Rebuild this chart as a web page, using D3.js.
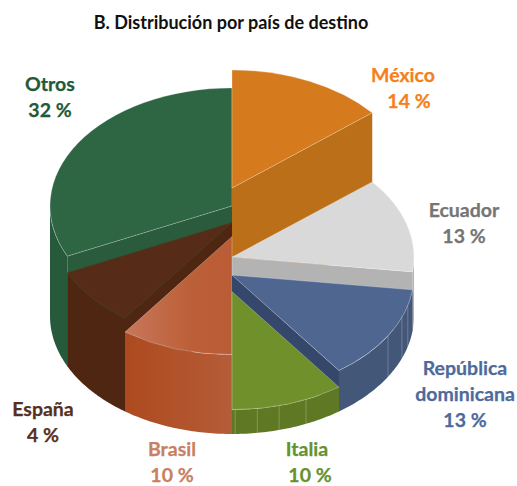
<!DOCTYPE html>
<html>
<head>
<meta charset="utf-8">
<script src="https://cdn.jsdelivr.net/npm/d3@7"></script>
<style>
    html, body { margin: 0; padding: 0; background: #fff; }
    svg { display: block; }
    text { font-family: Lato, "Open Sans", sans-serif; font-weight: 700; }
</style>
</head>
<body>
<svg id="drawing_region"></svg>
<script>
const titulo = "B. Distribución por país de destino";

// paises, in clockwise order from the top
const paises = [["México"], ["Ecuador"], ["República", "dominicana"], ["Italia"], ["Brasil"], ["España"], ["Otros"]];
// width of each slice as drawn
const valores = [14, 13, 13, 10, 10, 8, 32];
// the label printed next to each slice (España says 4 % but is drawn wider)
const rotulos = ["14 %", "13 %", "13 %", "10 %", "10 %", "4 %", "32 %"];
// relative height of each slice, tallest = 100
const alturas = [100, 46, 32, 19, 62, 73, 86];

const colorTapa = ["#d57b1e", "#d9d9d9", "#4e6690", "#70902c", "#c0613a", "#562c18", "#2e6644"];
const colorPared = ["#bb6f19", "#b3b3b3", "#35476a", "#5e7823", "#b1502a", "#4f2612", "#295b3c"];
const colorExterior = ["#bb6f19", "#b3b3b3", "#435778", "#5e7823", "#b1502a", "#4f2612", "#265a3b"];
const colorTexto = ["#f5801a", "#757575", "#4e6a9c", "#66912f", "#c97f62", "#56301f", "#1f5a38"];

const W = 517, H = 486;
const cx = 232, floorY = 316, rx = 182, ry = 118;

const svg = d3.select('#drawing_region').attr('width', W).attr('height', H);

const pie = d3.pie().sort(null).startAngle(0).endAngle(2 * Math.PI);
const slices = pie(valores);

// height scale: value 0 sits on the floor, 100 on top of México
const yTop = d3.scaleLinear().domain([0, 100]).range([floorY, floorY - 128]);

const defs = svg.append('defs');
const gTapa = defs.append('linearGradient').attr('id', 'brasilTapa');
gTapa.append('stop').attr('offset', '0%').attr('stop-color', '#c8775a');
gTapa.append('stop').attr('offset', '60%').attr('stop-color', '#bc6039');
gTapa.append('stop').attr('offset', '100%').attr('stop-color', '#ba5c35');
const gPared = defs.append('linearGradient').attr('id', 'brasilPared');
gPared.append('stop').attr('offset', '0%').attr('stop-color', '#ad4a1f');
gPared.append('stop').attr('offset', '100%').attr('stop-color', '#b55c38');

const px = a => cx + rx * Math.sin(a);
const py = (a, y0) => y0 - ry * Math.cos(a);

const arc = d3.arc().innerRadius(0).outerRadius(rx);

// back to front
const orden = [6, 0, 5, 1, 4, 2, 3];
const line = d3.line();

orden.forEach(i => {
    const s = slices[i];
    const top = yTop(alturas[i]);
    const a0 = s.startAngle, a1 = s.endAngle;
    const g = svg.append('g');
    const relleno = i === 4 ? 'url(#brasilPared)' : colorExterior[i];
    const borde = 'rgba(255,255,255,0.35)';

    // outer wall, only where it faces the viewer
    const v0 = Math.max(a0, Math.PI / 2), v1 = Math.min(a1, 3 * Math.PI / 2);
    if (v1 > v0) {
        const angs = d3.range(0, 41).map(k => v0 + (v1 - v0) * k / 40);
        const pts = angs.map(a => [px(a), py(a, top)])
            .concat(angs.slice().reverse().map(a => [px(a), py(a, floorY)]));
        g.append('path').attr('d', line(pts) + 'Z').attr('fill', relleno);
    }

    // radial walls, only the ones turned towards the viewer
    const caras = [];
    if (a0 > Math.PI) caras.push(a0);
    if (a1 < Math.PI) caras.push(a1);
    caras.forEach(a => {
        g.append('path')
            .attr('d', line([[cx, top], [px(a), py(a, top)], [px(a), py(a, floorY)], [cx, floorY]]) + 'Z')
            .attr('fill', colorPared[i]);
    });

    // top face
    g.append('path')
        .attr('d', arc(s))
        .attr('transform', `translate(${cx},${top}) scale(1,${ry / rx})`)
        .attr('fill', i === 4 ? 'url(#brasilTapa)' : colorTapa[i])
        .attr('stroke', i === 5 ? 'rgba(70,70,30,0.6)' : borde)
        .attr('stroke-width', 0.8)
        .attr('vector-effect', 'non-scaling-stroke');
});

// facet lines on the round walls of República dominicana and Italia
const facetas = [[2, 105], [2, 111], [2, 121], [3, 156], [3, 165], [3, 172], [3, 179]];
facetas.forEach(([i, deg]) => {
    const a = deg * Math.PI / 180;
    svg.append('line')
        .attr('x1', px(a)).attr('x2', px(a))
        .attr('y1', py(a, yTop(alturas[i]))).attr('y2', py(a, floorY))
        .attr('stroke', 'rgba(255,255,255,0.3)').attr('stroke-width', 0.8);
});

// titulo
svg.append('text')
    .attr('x', 231).attr('y', 29)
    .attr('text-anchor', 'middle')
    .attr('font-size', 18)
    .attr('fill', '#111')
    .text(titulo);

// labels: center x of the name, center x of the percent, first baseline
const posX = [403, 464, 465, 307, 172, 43, 50];
const posXPct = [409, 464, 465, 310, 172, 43, 50];
const posY = [82, 217, 375, 456, 456, 416, 91];

paises.forEach((lineas, i) => {
    const t = svg.append('text')
        .attr('text-anchor', 'middle')
        .attr('font-size', 19.5)
        .attr('fill', colorTexto[i])
        .attr('stroke', colorTexto[i])
        .attr('stroke-width', 0.25);
    lineas.forEach((l, k) => {
        t.append('tspan')
            .attr('x', posX[i])
            .attr('y', posY[i] + k * 26)
            .text(l);
    });
    t.append('tspan')
        .attr('x', posXPct[i])
        .attr('y', posY[i] + lineas.length * 26)
        .text(rotulos[i]);
});
</script>
</body>
</html>
